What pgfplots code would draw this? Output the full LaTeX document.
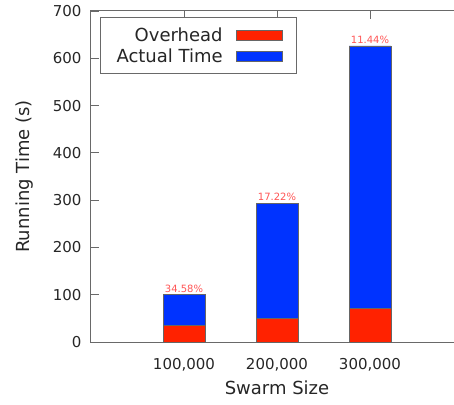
\documentclass[border=0pt]{standalone}
\usepackage{fontspec}
\setmainfont{DejaVu Sans}
\usepackage{pgfplots}
\pgfplotsset{compat=1.18}

\definecolor{ovh}{RGB}{255,34,0}
\definecolor{act}{RGB}{0,51,255}
\definecolor{framegray}{RGB}{105,105,105}
\definecolor{pctred}{RGB}{255,85,85}

\pgfplotsset{
  frameaxis/.style={
    at={(0,0)}, anchor=south west,
    scale only axis, width=372pt, height=331pt,
    xmin=0, xmax=4, ymin=0, ymax=700,
  },
}

\begin{document}
\begin{tikzpicture}
\begin{axis}[
  frameaxis,
  ybar stacked, bar width=42pt,
  xtick={1,2,3}, xticklabels={{100,000},{200,000},{300,000}},
  ytick={0,100,...,700},
  tick align=inside, major tick length=8pt,
  axis line style={framegray, line width=1pt},
  tick style={framegray, line width=0.8pt},
  /pgf/number format/assume math mode=true,
  ticklabel style={font=\fontsize{15}{15}\selectfont, text=black!85},
  xticklabel style={yshift=-13pt},
  yticklabel style={xshift=-6pt},
  every axis x label/.style={at={(axis description cs:0.5,0)}, anchor=center, yshift=-46pt},
  every axis y label/.style={at={(axis description cs:0,0.5)}, xshift=-66pt, rotate=90, anchor=center},
  label style={font=\fontsize{18}{18}\selectfont, text=black!85},
  xlabel={Swarm Size}, ylabel={Running Time (s)},
  legend plot pos=right,
  legend cell align=right,
  legend image code/.code={\draw[#1] (0pt,-5pt) rectangle (46pt,5pt);},
  legend style={at={(axis description cs:0.0242,0.982)}, anchor=north west,
    draw=framegray, line width=1pt, font=\fontsize{18}{18}\selectfont,
    text=black!85, row sep=2pt, column sep=11pt, inner xsep=14pt, inner ysep=8pt},
]
\addplot[fill=ovh, draw=black!60, line width=0.8pt]
  coordinates {(1,34.58) (2,50.45) (3,71.61)};
\addlegendentry{Overhead}
\addplot[fill=act, draw=black!60, line width=0.8pt]
  coordinates {(1,65.42) (2,242.55) (3,554.39)};
\addlegendentry{Actual Time}
\end{axis}
% overhead share written above each stack (stack totals)
\begin{axis}[
  frameaxis, hide axis,
  ybar, bar width=42pt,
]
\addplot[draw=none, fill=none,
  nodes near coords, point meta=explicit symbolic,
  every node near coord/.append style={font=\fontsize{10}{10}\selectfont, text=pctred, anchor=south, yshift=-1pt}]
  coordinates {(1,100) [34.58\%] (2,293) [17.22\%] (3,626) [11.44\%]};
\end{axis}
\pgfresetboundingbox
\path[use as bounding box] (-91pt,-62pt) rectangle (363pt,342pt);
\end{tikzpicture}
\end{document}
